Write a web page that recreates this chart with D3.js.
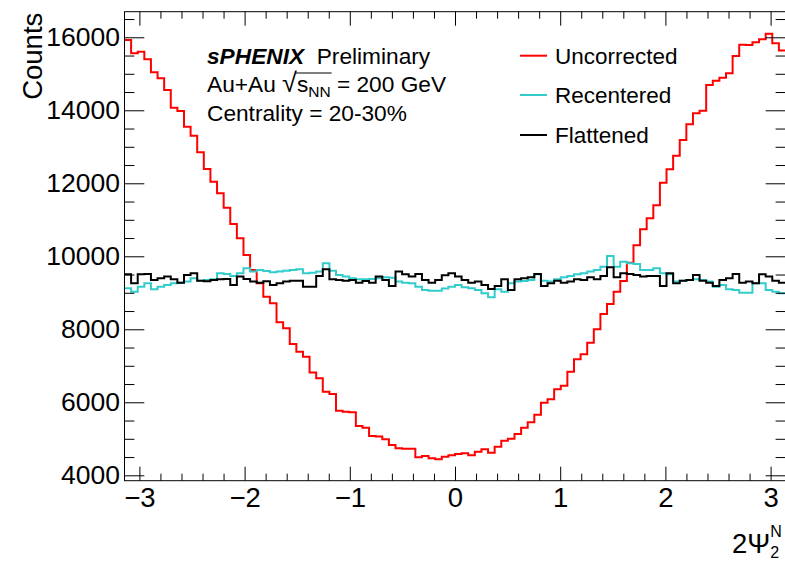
<!DOCTYPE html>
<html><head><meta charset="utf-8">
<script src="https://cdn.jsdelivr.net/npm/d3@7"></script>
<style>
body{margin:0;background:#fff}
svg{display:block}
text{font-family:"Liberation Sans",Arial,Helvetica,sans-serif;fill:#000}
</style>
</head><body>
<svg id="c" width="785" height="565"></svg>
<script>
// ---- data (100 bins over [-pi, pi]) ----
const uncorrected = [15926,15562,15605,15397,15041,14877,14556,14071,13981,13551,
13304,12849,12392,12044,11726,11330,10885,10493,10036,9625,
9260,8893,8712,8192,8027,7597,7386,7249,6815,6658,
6290,6227,5770,5740,5730,5351,5305,5077,5060,4986,
4830,4740,4730,4725,4493,4529,4466,4438,4511,4548,
4584,4603,4548,4648,4712,4620,4785,4949,5003,5131,
5305,5455,5660,5990,6082,6356,6455,6838,7178,7315,
7633,8000,8419,8693,9030,9323,9825,10301,10740,11041,
11400,12016,12384,12756,13186,13616,13918,13989,14693,14811,
14893,15014,15488,15797,15789,15863,15945,16100,15836,15640];
const recentered = [9123,9032,9169,9260,9096,9169,9214,9260,9278,9306,
9397,9333,9351,9369,9534,9516,9461,9534,9671,9580,
9625,9598,9561,9580,9607,9625,9643,9534,9552,9580,
9808,9607,9488,9443,9397,9369,9369,9379,9397,9424,
9415,9306,9278,9260,9169,9077,9059,9059,9120,9169,
9214,9150,9123,9077,8986,8876,9096,9032,9260,9306,
9324,9351,9506,9333,9306,9369,9424,9461,9506,9534,
9580,9625,9716,10009,9716,9853,9808,9790,9625,9625,
9671,9534,9506,9306,9333,9351,9369,9351,9306,9169,
9214,9096,9077,9004,9004,9260,9260,9077,9032,8986];
const flattened = [9506,9260,9506,9516,9351,9397,9443,9369,9278,9488,
9534,9333,9315,9351,9369,9379,9214,9443,9379,9306,
9278,9315,9214,9260,9306,9333,9333,9169,9169,9461,
9643,9369,9351,9333,9351,9278,9324,9278,9443,9351,
9187,9580,9506,9443,9516,9351,9278,9351,9480,9534,
9443,9351,9278,9306,9214,9105,9187,9369,9077,9369,
9397,9424,9516,9187,9260,9333,9278,9306,9369,9351,
9424,9369,9461,9698,9424,9534,9516,9488,9443,9461,
9461,9187,9534,9260,9333,9351,9488,9333,9278,9187,
9351,9397,9516,9278,9306,9260,9506,9443,9333,9278];
const seriesNames = ["Uncorrected","Recentered","Flattened"];
const seriesColors = ["#ff0000","#33cccc","#000000"];
const xTickValues = [-3,-2,-1,0,1,2,3];
const yTickValues = [4000,6000,8000,10000,12000,14000,16000];

// ---- layout ----
const L = 124.5, R = 785.5, T = 11.7, B = 480.7;
const svg = d3.select("#c");
const x = d3.scaleLinear().domain([-Math.PI, Math.PI]).range([L, R]);
const y = d3.scaleLinear().domain([3852, 16701]).range([B, T]);
const nBins = uncorrected.length;
const edges = d3.range(nBins + 1).map(i => -Math.PI + i * 2 * Math.PI / nBins);

svg.append("clipPath").attr("id","fr").append("rect")
  .attr("x", L).attr("y", T).attr("width", R - L).attr("height", B - T);

// histograms
const line = d3.line().x(d => x(d[0])).y(d => y(d[1])).curve(d3.curveStepAfter);
const all = [uncorrected, recentered, flattened];
const g = svg.append("g").attr("clip-path","url(#fr)");
all.forEach((vals, k) => {
  const pts = vals.map((v, i) => [edges[i], v]);
  pts.push([edges[nBins], vals[nBins - 1]]);
  g.append("path").attr("d", line(pts)).attr("fill","none")
   .attr("stroke", seriesColors[k]).attr("stroke-width", 2);
});

// axes
const fmt = d => d < 0 ? "\u2212" + (-d) : String(d);
const xMinor = d3.range(-30, 31, 2).map(v => v / 10).filter(v => xTickValues.indexOf(v) < 0);
const yMinor = d3.range(4000, 16701, 500).filter(v => yTickValues.indexOf(v) < 0);
const xMaj = 14, xMin = 7, yMaj = 19.8, yMin = 9.9;

function ax(gen, tr, fsz){ const a = svg.append("g").attr("transform", tr).call(gen);
  a.select(".domain").remove(); a.selectAll("line").attr("stroke","#000");
  a.selectAll("text").attr("font-size", fsz || 27).attr("font-family","'Liberation Sans',Arial,sans-serif").attr("fill","#000");
  return a; }
ax(d3.axisBottom(x).tickValues(xTickValues).tickSize(-xMaj).tickPadding(7).tickFormat(fmt), `translate(0,${B})`, 27.5);
ax(d3.axisBottom(x).tickValues(xMinor).tickSize(-xMin).tickFormat(""), `translate(0,${B})`);
ax(d3.axisTop(x).tickValues(xTickValues).tickSize(-xMaj).tickFormat(""), `translate(0,${T})`);
ax(d3.axisTop(x).tickValues(xMinor).tickSize(-xMin).tickFormat(""), `translate(0,${T})`);
ax(d3.axisLeft(y).tickValues(yTickValues).tickSize(-yMaj).tickPadding(4.5).tickFormat(d => d), `translate(${L},0)`, 26.5);
ax(d3.axisLeft(y).tickValues(yMinor).tickSize(-yMin).tickFormat(""), `translate(${L},0)`);
ax(d3.axisRight(y).tickValues(yTickValues).tickSize(-yMaj).tickFormat(""), `translate(${R},0)`);
ax(d3.axisRight(y).tickValues(yMinor).tickSize(-yMin).tickFormat(""), `translate(${R},0)`);

// frame
svg.append("rect").attr("x", L).attr("y", T).attr("width", R - L).attr("height", B - T)
  .attr("fill","none").attr("stroke","#000").attr("stroke-width",1);

// axis titles
svg.append("text").attr("transform", `translate(42,${T + 1}) rotate(-90)`)
  .attr("text-anchor","end").attr("font-size",27.5).text("Counts");
const xt = svg.append("text").attr("x", 732).attr("y", 553).attr("font-size", 27.5);
xt.append("tspan").text("2\u03A8");
xt.append("tspan").attr("font-size", 16).attr("dy", 5).text("2");
xt.append("tspan").attr("font-size", 16).attr("dx", -9).attr("dy", -21).text("N");

// text block
const fs = 22.7;
const t1 = svg.append("text").attr("x", 207).attr("y", 63.5).attr("font-size", fs);
t1.append("tspan").attr("font-weight","bold").attr("font-style","italic").text("sPHENIX");
t1.append("tspan").text("\u00A0\u00A0Preliminary");
const t2 = svg.append("text").attr("x", 207).attr("y", 92).attr("font-size", fs);
t2.append("tspan").text("Au+Au ");
t2.append("tspan").attr("font-size", 27).attr("font-weight","100").text("\u221A");
t2.append("tspan").text("s");
t2.append("tspan").attr("font-size", 15.5).attr("dy", 5).text("NN");
t2.append("tspan").attr("dy", -5).text(" = 200 GeV");
{
  const node = t2.node();
  const full = node.textContent;
  const iS = full.indexOf("s");
  const iN = full.indexOf("NN") + 1;
  const x0 = node.getStartPositionOfChar(iS).x - 1;
  const x1 = node.getEndPositionOfChar(iN).x + 1;
  svg.append("line").attr("x1", x0).attr("x2", x1).attr("y1", 73).attr("y2", 73)
    .attr("stroke","#000").attr("stroke-width",1.2);
}
svg.append("text").attr("x", 207).attr("y", 120.5).attr("font-size", fs).text("Centrality = 20-30%");

// legend
const legY = [55.7, 95, 135];
seriesNames.forEach((n, k) => {
  svg.append("line").attr("x1", 520).attr("x2", 547).attr("y1", legY[k]).attr("y2", legY[k])
    .attr("stroke", seriesColors[k]).attr("stroke-width", 2);
  svg.append("text").attr("x", 555).attr("y", legY[k] + 8).attr("font-size", 22.5).text(n);
});
</script>
</body></html>
